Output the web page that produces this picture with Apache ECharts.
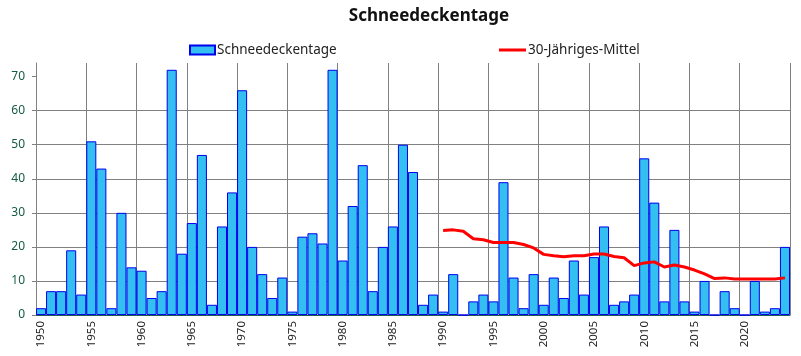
<!DOCTYPE html>
<html><head><meta charset="utf-8">
<script src="https://cdn.jsdelivr.net/npm/echarts@6/dist/echarts.min.js"></script>
<style>html,body{margin:0;padding:0;background:#fff}#c{width:801px;height:356px}</style>
</head><body><div id="c"></div>
<script>
const years = [];
for (let y = 1950; y <= 2024; y++) years.push(String(y));
const snowDays = [2,7,7,19,6,51,43,2,30,14,13,5,7,72,18,27,47,3,26,36,
  66,20,12,5,11,1,23,24,21,72,16,32,44,7,20,26,50,42,3,6,
  1,12,0,4,6,4,39,11,2,12,3,11,5,16,6,17,26,3,4,6,
  46,33,4,25,4,1,10,0,7,2,0,10,1,2,20];
const meanStartYear = 1990;
const meanValues = [24.8,25.0,24.6,22.4,22.1,21.3,21.3,21.3,20.7,19.7,
  17.8,17.4,17.1,17.4,17.4,17.9,17.9,17.2,16.8,14.5,
  15.3,15.6,14.1,14.7,14.1,13.2,12.1,10.7,10.9,10.6,
  10.6,10.6,10.6,10.6,10.9];
const yTicks = [0,10,20,30,40,50,60,70];
const meanSeries = years.map((y) => {
  const i = Number(y) - meanStartYear;
  return i >= 0 ? meanValues[i] : null;
});
const font = 'Noto Sans';
const chart = echarts.init(document.getElementById('c'));
chart.setOption({
  animation: false,
  title: {text: 'Schneedeckentage', left: 424, top: 3, textAlign: 'center',
    textStyle: {fontFamily: font, fontSize: 17, fontWeight: 'bold', color: '#111'}},
  legend: [
    {data: [{name: 'Schneedeckentage', icon: 'rect'}], left: 184, top: 38, itemWidth: 25, itemHeight: 9, itemGap: 4,
      textStyle: {fontFamily: font, fontSize: 13.5, color: '#222', padding: [0,0,0,-3]}},
    {data: [{name: '30-Jähriges-Mittel', icon: 'rect'}], left: 494, top: 38, itemWidth: 27, itemHeight: 3,
      textStyle: {fontFamily: font, fontSize: 13.5, color: '#222', padding: [0,0,0,-3]}}
  ],
  grid: {left: 36, right: 11, top: 63, bottom: 41},
  xAxis: {
    type: 'category', data: years, boundaryGap: true,
    axisLine: {lineStyle: {color: '#1f5f4f', width: 1}},
    axisTick: {interval: 4, length: 4, lineStyle: {color: '#1f6f4f'}},
    axisLabel: {interval: 4, rotate: 90, margin: 6, fontFamily: font, fontSize: 11.5, color: '#222'},
    splitLine: {show: true, interval: 4, lineStyle: {color: '#808080', width: 1}}
  },
  yAxis: {
    type: 'value', min: 0, max: 74, interval: 10,
    axisLine: {show: true, lineStyle: {color: '#808080'}},
    axisTick: {show: true, length: 4, customValues: yTicks, lineStyle: {color: '#808080'}},
    axisLabel: {customValues: yTicks, margin: 11, fontFamily: font, fontSize: 12, color: '#145a46'},
    splitLine: {show: true, showMaxLine: false, lineStyle: {color: '#808080', width: 1}}
  },
  series: [
    {name: 'Schneedeckentage', type: 'bar', data: snowDays, barWidth: '100%',
      itemStyle: {color: '#33bff2', borderColor: '#0000ee', borderWidth: 1, borderRadius: 0}},
    {name: '30-Jähriges-Mittel', type: 'line', data: meanSeries, symbol: 'none',
      connectNulls: false, lineStyle: {color: '#ff0000', width: 3}, itemStyle: {color: '#ff0000'}}
  ]
});
</script></body></html>
